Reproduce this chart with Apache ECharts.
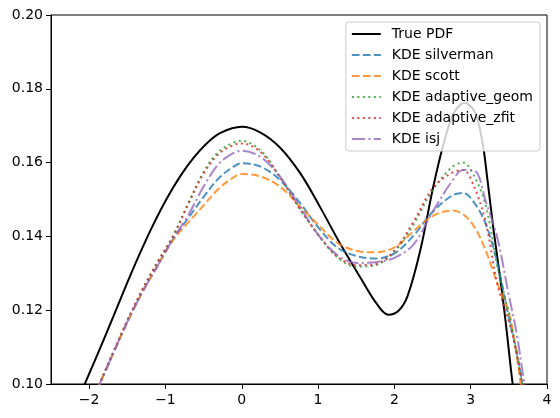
<!DOCTYPE html>
<html><head><meta charset="utf-8">
<script src="https://cdn.jsdelivr.net/npm/echarts@6/dist/echarts.min.js"></script>
<style>html,body{margin:0;padding:0;background:#fff}#c{width:560px;height:418px}</style>
</head><body><div id="c"></div>
<script>
// True PDF
const trueX = [-2.1, -1.86, -1.685, -1.51, -1.335, -1.16, -0.984, -0.81, -0.635, -0.46, -0.285, 0, 0.24, 0.5, 0.77, 1.03, 1.29, 1.55, 1.77, 1.92, 2.05, 2.17, 2.34, 2.51, 2.65, 2.78, 2.92, 3.05, 3.15, 3.22, 3.30, 3.39, 3.46, 3.55, 3.6];
const trueY = [0.0980, 0.1095, 0.1182, 0.1270, 0.1354, 0.1432, 0.1502, 0.1562, 0.1612, 0.1652, 0.1680, 0.1697, 0.1682, 0.1641, 0.1570, 0.1478, 0.1380, 0.1290, 0.1217, 0.1188, 0.1198, 0.1237, 0.1363, 0.1535, 0.1655, 0.1734, 0.1762, 0.1738, 0.1661, 0.1553, 0.1417, 0.1282, 0.1165, 0.1000, 0.0930];

// KDE estimates, shared x grid
const kdeX = [-1.9, -1.7, -1.5, -1.3, -1.1, -0.9, -0.7, -0.5, -0.3, -0.1, 0, 0.25, 0.5, 0.75, 1.0, 1.25, 1.5, 1.75, 2.0, 2.25, 2.5, 2.75, 2.9, 3.05, 3.2, 3.35, 3.5, 3.6, 3.7, 3.8];
const silvermanY = [0.0982, 0.1076, 0.1168, 0.1250, 0.1322, 0.1393, 0.1450, 0.1507, 0.1558, 0.1590, 0.1598, 0.1589, 0.1553, 0.1494, 0.1425, 0.1370, 0.1347, 0.1340, 0.1354, 0.1402, 0.1466, 0.1510, 0.1518, 0.1490, 0.1432, 0.1327, 0.1180, 0.1090, 0.0975, 0.0870];
const scottY = [0.0982, 0.1076, 0.1168, 0.1250, 0.1322, 0.1390, 0.1438, 0.1484, 0.1530, 0.1561, 0.1569, 0.1562, 0.1535, 0.1484, 0.1432, 0.1383, 0.1361, 0.1357, 0.1370, 0.1414, 0.1455, 0.1470, 0.1460, 0.1425, 0.1360, 0.1272, 0.1195, 0.1080, 0.0940, 0.0850];
const geomY = [0.0983, 0.1079, 0.1172, 0.1257, 0.1332, 0.1402, 0.1490, 0.1575, 0.1630, 0.1655, 0.1659, 0.1632, 0.1562, 0.1478, 0.1405, 0.1344, 0.1318, 0.1322, 0.1358, 0.1432, 0.1525, 0.1587, 0.1600, 0.1562, 0.1482, 0.1318, 0.1192, 0.1085, 0.0975, 0.0880];
const zfitY = [0.0983, 0.1079, 0.1172, 0.1257, 0.1332, 0.1400, 0.1488, 0.1570, 0.1624, 0.1648, 0.1652, 0.1628, 0.1560, 0.1478, 0.1405, 0.1346, 0.1322, 0.1325, 0.1362, 0.1440, 0.1530, 0.1572, 0.1580, 0.1532, 0.1435, 0.1270, 0.1170, 0.1085, 0.0975, 0.0890];
const isjY = [0.0982, 0.1076, 0.1168, 0.1250, 0.1322, 0.1393, 0.1458, 0.1535, 0.1597, 0.1627, 0.1632, 0.1615, 0.1562, 0.1485, 0.1405, 0.1350, 0.1328, 0.1330, 0.1342, 0.1378, 0.1466, 0.1548, 0.1580, 0.1578, 0.1493, 0.1395, 0.1240, 0.1140, 0.1006, 0.0890];

const seriesNames = ['True PDF', 'KDE silverman', 'KDE scott', 'KDE adaptive_geom', 'KDE adaptive_zfit', 'KDE isj'];
const xTicks = [-2, -1, 0, 1, 2, 3, 4];

const pairs = (xs, ys) => xs.map((x, i) => [x, ys[i]]);
const lw = 2;
const dashed = [7.7, 3.3];
const dotted = [2.1, 3.4];
const dashdot = [13.3, 3.3, 2.1, 3.3];

function mk(name, data, color, type, op) {
  return {
    name, type: 'line', data, showSymbol: false, symbol: 'none', smooth: 0.35,
    clip: true, z: 2,
    lineStyle: { color, width: lw, type, opacity: op },
    itemStyle: { color, opacity: op }
  };
}

const chart = echarts.init(document.getElementById('c'), null, { renderer: 'canvas' });
const fmtMinus = v => String(v).replace('-', '\u2212');
chart.setOption({
  animation: false,
  backgroundColor: '#fff',
  textStyle: { fontFamily: 'DejaVu Sans' },
  grid: { left: 51, right: 13, top: 15, bottom: 34, show: true, borderColor: '#000', borderWidth: 1, backgroundColor: 'transparent' },
  xAxis: {
    type: 'value', min: -2.5, max: 4,
    splitLine: { show: false },
    axisLine: { show: true, onZero: false, lineStyle: { color: '#000', width: 1 } },
    axisTick: { show: true, length: 5, lineStyle: { color: '#000' }, customValues: xTicks },
    axisLabel: { customValues: xTicks, color: '#000', fontSize: 14, margin: 9, fontFamily: 'DejaVu Sans', formatter: v => fmtMinus(v) }
  },
  yAxis: {
    type: 'value', min: 0.10, max: 0.20, interval: 0.02,
    splitLine: { show: false },
    axisLine: { show: true, onZero: false, lineStyle: { color: '#000', width: 1 } },
    axisTick: { show: true, length: 5, lineStyle: { color: '#000' } },
    axisLabel: { color: '#000', fontSize: 14, margin: 8, fontFamily: 'DejaVu Sans', formatter: v => v.toFixed(2) }
  },
  legend: {
    data: seriesNames,
    orient: 'vertical', right: 20, top: 22,
    itemWidth: 29, itemHeight: 14, itemGap: 7,
    padding: [5, 7, 5, 5],
    backgroundColor: 'rgba(255,255,255,0.8)',
    borderColor: '#cccccc', borderWidth: 1, borderRadius: 3,
    itemStyle: { opacity: 0 },
    textStyle: { color: '#000', fontSize: 14, fontFamily: 'DejaVu Sans', padding: [0, 0, 0, 6] },
    z: 10
  },
  series: [
    mk(seriesNames[0], pairs(trueX, trueY), '#000000', 'solid', 1),
    mk(seriesNames[1], pairs(kdeX, silvermanY), '#1f77b4', dashed, 0.8),
    mk(seriesNames[2], pairs(kdeX, scottY), '#ff7f0e', dashed, 0.8),
    mk(seriesNames[3], pairs(kdeX, geomY), '#2ca02c', dotted, 0.8),
    mk(seriesNames[4], pairs(kdeX, zfitY), '#d62728', dotted, 0.8),
    mk(seriesNames[5], pairs(kdeX, isjY), '#9467bd', dashdot, 0.8)
  ]
});
</script>
</body></html>
